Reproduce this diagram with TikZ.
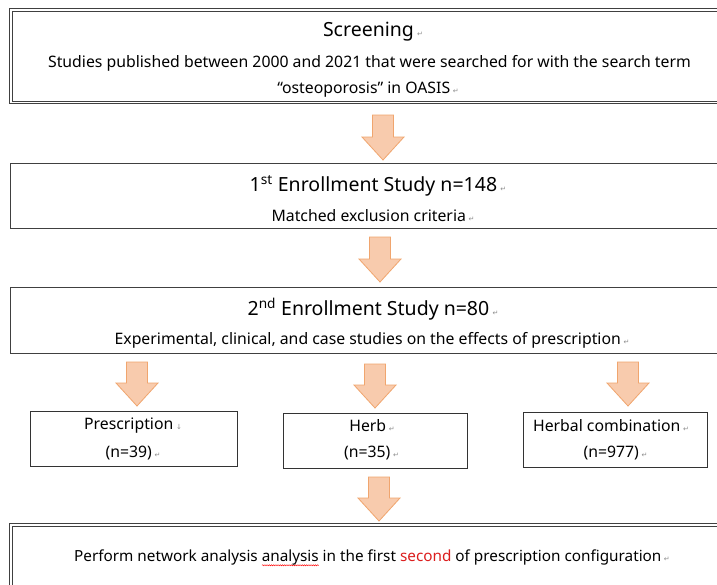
\documentclass[tikz,border=0pt]{standalone}
\usepackage{fontspec}
\setmainfont{Noto Sans}
\newfontfamily\marksfont{DejaVu Sans}
\usetikzlibrary{positioning,decorations.pathmorphing}
\definecolor{arrowfill}{RGB}{248,203,173}
\definecolor{arrowline}{RGB}{240,165,110}
\definecolor{wordred}{RGB}{220,30,30}
\newcommand{\pmark}{\,{\marksfont\fontsize{7}{7}\selectfont\color{black!45}↵}}
\newcommand{\lmark}{\,{\marksfont\fontsize{7}{7}\selectfont\color{black!45}↓}}
\newcommand{\spellwave}[1]{\setbox0\hbox{#1}\rlap{\raisebox{-4.5pt}{\tikz\draw[red,line width=0.45pt,decorate,decoration={snake,amplitude=0.6pt,segment length=2.2pt}] (0pt,0pt)--(\wd0,0pt);}}#1}
% block arrow: x, top, bottom
\newcommand{\blockdown}[3]{%
\draw[blockarrow] (#1-10.5,#2)--(#1+10.5,#2)--(#1+10.5,#3-23)--(#1+21,#3-23)--(#1,#3)--(#1-21,#3-23)--(#1-10.5,#3-23)--cycle;}
% box running off the right edge: node name
\newcommand{\openbox}[1]{%
\draw[boxline] (#1.north east)--(#1.north west)--(#1.south west)--(#1.south east);}
\newcommand{\dblopenbox}[1]{%
\draw[dboxline] (#1.north east)--(#1.north west)--(#1.south west)--(#1.south east);
\draw[dboxline] ([yshift=-2.8pt]#1.north east)--([shift={(2.8,2.8)}]#1.north west)--([shift={(2.8,-2.8)}]#1.south west)--([yshift=2.8pt]#1.south east);}

\begin{document}
\begin{tikzpicture}[x=1pt,y=-1pt,
box/.style = {minimum width=710pt, inner sep=0pt},
boxline/.style = {draw=black!75, line width=1pt},
dboxline/.style = {draw=black!75, line width=0.8pt},
subbox/.style = {draw=black!80, line width=0.9pt, minimum height=55pt, inner sep=0pt},
title/.style = {font=\fontsize{19.5}{19.5}\selectfont, inner sep=0pt},
body/.style = {font=\fontsize{15.8}{15.8}\selectfont, inner sep=0pt},
blockarrow/.style = {fill=arrowfill, draw=arrowline, line width=0.8pt, line join=miter},]
\fill[white] (0,0) rectangle (717,584);
\useasboundingbox (0,0) rectangle (717,584);
% main boxes
\node (screen) at (364.5,56) [box,minimum height=95pt] {};
\node (first) at (366,196)[box,minimum height=64pt] {};
\node (second) at (366,320.5)[box,minimum height=65pt] {};
\node (final) at (364.5,570)[box,minimum height=92pt] {};
\dblopenbox{screen}
\openbox{first}
\openbox{second}
\dblopenbox{final}
% sub boxes
\node (presc) at (133.5,439)[subbox,minimum width=207pt] {};
\node (herb) at (375,441)[subbox,minimum width=184pt] {};
\node (comb) at (615,440)[subbox,minimum width=184pt] {};
% texts
\node (t-screen) at (373,32)[title] {Screening\pmark};
\node (t-studies) at (369.5,63)[body] {Studies published between 2000 and 2021 that were searched for with the search term};
\node (t-oasis) at (368,90)[body] {“osteoporosis” in OASIS\pmark};
\node (t-first) at (378,186)[title] {1\textsuperscript{st} Enrollment Study n=148\pmark};
\node (t-match) at (373,216)[body] {Matched exclusion criteria\pmark};
\node (t-second) at (373,309)[title] {2\textsuperscript{nd} Enrollment Study n=80\pmark};
\node (t-exp) at (372,340)[body] {Experimental, clinical, and case studies on the effects of prescription\pmark};
\node (t-presc) at (133,426)[body] {Prescription\lmark};
\node (t-n39) at (133,453)[body] {(n=39)\pmark};
\node (t-herb) at (372,426)[body] {Herb\pmark};
\node (t-n35) at (371.5,453)[body] {(n=35)\pmark};
\node (t-comb) at (611,426)[body] {Herbal combination\pmark};
\node (t-n977) at (615.5,453)[body] {(n=977)\pmark};
\node (t-final) at (372,558)[body,font=\fontsize{15.3}{15.3}\selectfont] {Perform network analysis \spellwave{analysis} in the first \textcolor{wordred}{second} of prescription configuration\pmark};
% arrows
\blockdown{383}{115}{160}
\blockdown{380}{237}{282}
\blockdown{137}{362}{406}
\blockdown{375}{364}{408}
\blockdown{628}{362}{406}
\blockdown{379}{477}{521}
\end{tikzpicture}
\end{document}
